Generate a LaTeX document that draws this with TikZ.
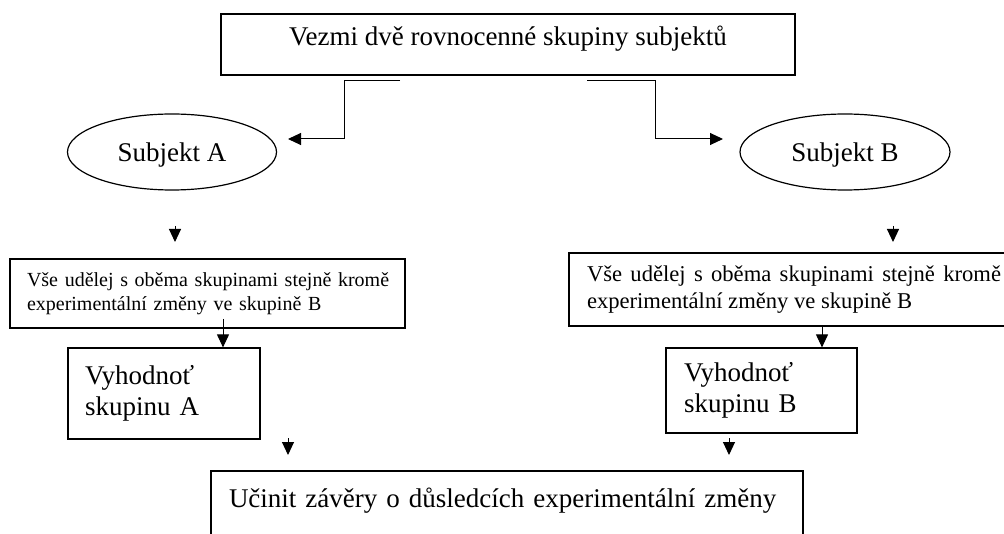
\documentclass[tikz,border=0pt]{standalone}
\usepackage{fontspec}
\setmainfont{Liberation Serif}
\usetikzlibrary{shapes.geometric,arrows.meta}

\newcommand{\bigtxt}{\fontsize{27}{31}\selectfont}
\newcommand{\midtxt}{\fontsize{22.6}{27}\selectfont}
\newcommand{\smalltxt}{\fontsize{20}{24}\selectfont}

\begin{document}
\begin{tikzpicture}[x=1pt,y=-1pt,
  box/.style={draw,line width=1.2pt,rectangle,inner ysep=0pt},
  oval/.style={draw,line width=1.2pt,ellipse,inner sep=0pt,minimum width=209pt,minimum height=76pt,text depth=0pt,font=\bigtxt},
  arr/.style={line width=1pt,-{Triangle[length=13pt,width=12pt]}}]
\useasboundingbox (0,0) rectangle (1004,534);
\clip (0,0) rectangle (1004,534);

\node[box,minimum width=574pt,text height=32pt,text depth=29pt,font=\bigtxt] (take) at (508,44.5) {Vezmi dvě rovnocenné skupiny subjektů};

\node[oval] (subA) at (172,152) {Subjekt A};
\node[oval,minimum width=210pt] (subB) at (845,152) {Subjekt B};

\coordinate (splitA) at (400,81);
\coordinate (splitB) at (587,81);
\coordinate (inA) at (288,139);
\coordinate (inB) at (723,139);
\draw[arr] (splitA) -- (344,81) |- (inA);
\draw[arr] (splitB) -- (655,81) |- (inB);

\coordinate (fromA) at (175,226);
\coordinate (toA) at (175,242);
\draw[arr] (fromA) -- (toA);
\coordinate (fromB) at (893,226);
\coordinate (toB) at (893,242);
\draw[arr] (fromB) -- (toB);

\node[box,minimum width=395pt,minimum height=69pt,text width=375pt,inner xsep=10pt,align=left,font=\smalltxt] (doA) at (207.5,293.5)
  {\hspace*{7pt}Vše udělej s oběma skupinami stejně kromě\\\hspace*{7pt}experimentální změny ve skupině B};
\node[box,minimum height=73pt,text width=414pt,inner xsep=18pt,align=justify,font=\midtxt] (doB) at (794,289.5)
  {Vše udělej s oběma skupinami stejně kromě experimentální změny ve skupině B};

\node[box,minimum width=192pt,minimum height=91pt,text width=158pt,inner xsep=17pt,align=left,font=\bigtxt] (evalA) at (164,393.5) {Vyhodnoť\\skupinu A};
\node[box,minimum width=191pt,minimum height=85pt,text width=155pt,inner xsep=18pt,align=left,font=\bigtxt] (evalB) at (761.5,390.5) {Vyhodnoť\\skupinu B};

\coordinate (dropA) at (223,319);
\draw[arr] (dropA) -- (dropA |- evalA.north);
\coordinate (dropB) at (822,0);
\draw[arr] (doB.south -| dropB) -- (evalB.north -| dropB);

\coordinate (endA1) at (288,438);
\coordinate (endA2) at (288,455);
\draw[arr] (endA1) -- (endA2);
\coordinate (endB1) at (729,438);
\coordinate (endB2) at (729,455);
\draw[arr] (endB1) -- (endB2);

\node[box,minimum width=592pt,text width=556pt,inner xsep=18pt,align=left,text height=36pt,text depth=60pt,font=\bigtxt] (conclude) at (507,519)
  {Učinit závěry o důsledcích experimentální změny};
\end{tikzpicture}
\end{document}
